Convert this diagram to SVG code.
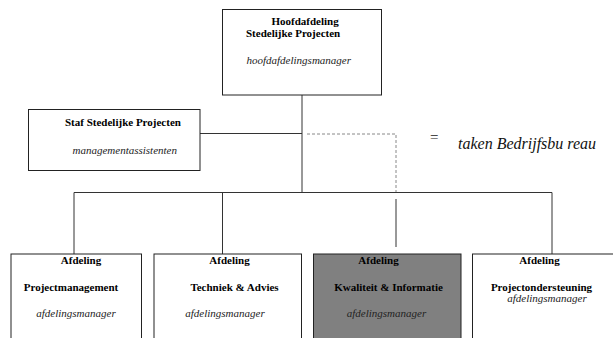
<svg xmlns="http://www.w3.org/2000/svg" width="613" height="338" viewBox="0 0 613 338">
<style>
.box{fill:#fff;stroke:#222;stroke-width:1}
.grey{fill:#808080;stroke:#222;stroke-width:1}
.ln{stroke:#333;stroke-width:1;fill:none}
.dash{stroke:#888;stroke-width:1;fill:none;stroke-dasharray:3,2}
.b{font-family:"Liberation Serif","Times New Roman",serif;font-size:11px;font-weight:bold;fill:#000}
.i{font-family:"Liberation Serif","Times New Roman",serif;font-size:11px;font-style:italic;fill:#222}
.m{text-anchor:middle}
</style>
<rect width="613" height="338" fill="#fff"/>
<g id="connectors">
<line class="ln" x1="302" y1="95" x2="302" y2="192.5"/>
<line class="ln" x1="200" y1="133.5" x2="302" y2="133.5"/>
<line class="ln" x1="74" y1="192.5" x2="552" y2="192.5"/>
<line class="ln" x1="74" y1="192.5" x2="74" y2="254"/>
<line class="ln" x1="222.5" y1="192.5" x2="222.5" y2="254"/>
<line class="ln" x1="396" y1="199" x2="396" y2="247"/>
<line class="ln" x1="552" y1="192.5" x2="552" y2="254"/>
<polyline class="dash" points="307,134 396,134 396,192"/>
</g>
<g id="hoofd">
<rect class="box" x="222.5" y="9.5" width="159" height="85.5"/>
<text class="b" x="271.5" y="25">Hoofdafdeling</text>
<text class="b" x="246" y="37">Stedelijke Projecten</text>
<text class="i" x="246.5" y="64">hoofdafdelingsmanager</text>
</g>
<g id="staf">
<rect class="box" x="28.5" y="109.5" width="171.5" height="61"/>
<text class="b" x="65" y="126">Staf Stedelijke Projecten</text>
<text class="i" x="72.5" y="154">managementassistenten</text>
</g>
<g id="legend">
<text x="430" y="142" style="font-family:'Liberation Serif',serif;font-size:15px;fill:#222">=</text>
<text x="458" y="149" style="font-family:'Liberation Serif',serif;font-size:16px;font-style:italic;fill:#111">taken Bedrijfsbu reau</text>
</g>
<g id="pm">
<rect class="box" x="11" y="254" width="130.5" height="100"/>
<text class="b m" x="81" y="264">Afdeling</text>
<text class="b m" x="71" y="291">Projectmanagement</text>
<text class="i m" x="76" y="317">afdelingsmanager</text>
</g>
<g id="ta">
<rect class="box" x="154" y="254" width="147.5" height="100"/>
<text class="b m" x="229.5" y="264">Afdeling</text>
<text class="b m" x="234.5" y="291">Techniek &amp; Advies</text>
<text class="i m" x="225" y="317">afdelingsmanager</text>
</g>
<g id="ki">
<rect class="grey" x="313.5" y="254" width="147.5" height="100"/>
<text class="b m" x="378.5" y="264">Afdeling</text>
<text class="b m" x="388.5" y="291">Kwaliteit &amp; Informatie</text>
<text class="i m" x="386.5" y="317">afdelingsmanager</text>
</g>
<g id="po">
<rect class="box" x="472.5" y="254" width="160" height="100"/>
<text class="b m" x="539.5" y="264">Afdeling</text>
<text class="b m" x="541.5" y="291">Projectondersteuning</text>
<text class="i m" x="547" y="302">afdelingsmanager</text>
</g>
</svg>
